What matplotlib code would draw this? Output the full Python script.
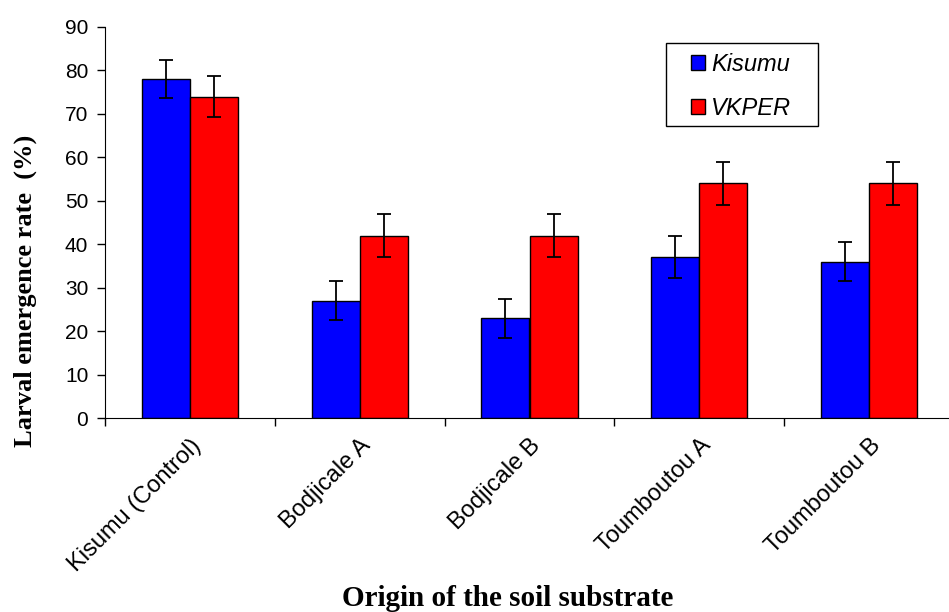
import matplotlib.pyplot as plt
import matplotlib.patches as mpatches
import numpy as np

# data
sites = ["Kisumu (Control)", "Bodjicale A", "Bodjicale B", "Toumboutou A", "Toumboutou B"]
kisumu = [78, 27, 23, 37, 36]
kisumu_err = [4.4, 4.5, 4.5, 4.8, 4.5]
vkper = [74, 42, 42, 54, 54]
vkper_err = [4.8, 4.9, 4.9, 5.0, 5.0]

fig = plt.figure(figsize=(9.49, 6.12), dpi=100)
ax = fig.add_axes([105/949, (612-418)/612, (954-105)/949, (418-27)/612])

x = np.arange(len(sites)) + 0.5
w = 0.283

ax.bar(x - w/2, kisumu, w, color="#0000ff", edgecolor="black", linewidth=1, label="Kisumu")
ax.bar(x + w/2, vkper, w, color="#ff0000", edgecolor="black", linewidth=1, label="VKPER")
ax.errorbar(x - w/2, kisumu, yerr=kisumu_err, fmt="none", ecolor="black", elinewidth=1.3, capsize=5, capthick=1.3)
ax.errorbar(x + w/2, vkper, yerr=vkper_err, fmt="none", ecolor="black", elinewidth=1.3, capsize=5, capthick=1.3)

ax.set_xlim(0, len(sites))
ax.set_ylim(0, 90)
ax.set_yticks(range(0, 91, 10))
ax.set_xticks(range(len(sites) + 1))
ax.set_xticklabels([])
ax.set_xticks(x, minor=True)
ax.set_xticklabels(sites, minor=True, rotation=45, ha="right", rotation_mode="anchor",
                   fontsize=17, family="Liberation Sans")
ax.tick_params(axis="x", which="minor", length=0, pad=12)
ax.tick_params(axis="x", which="major", length=6, width=1)
ax.tick_params(axis="y", length=6, width=1, labelsize=15, pad=6)
for lbl in ax.get_yticklabels():
    lbl.set_family("Liberation Sans")

for s in ["top", "right"]:
    ax.spines[s].set_visible(False)

ax.set_ylabel("Larval emergence rate  (%)", fontsize=19, fontweight="bold",
              family="Liberation Serif")
ax.yaxis.set_label_coords((37 - 105) / 849, (418 - 291) / 391)
fig.text(0.535, 0.0, "Origin of the soil substrate", fontsize=21, fontweight="bold",
         family="Liberation Serif", ha="center", va="bottom")

# legend without frame, box drawn separately
leg = ax.legend(loc="upper left", frameon=False,
                handlelength=0.6, handleheight=0.6, borderaxespad=0,
                handletextpad=0.25, labelspacing=0.87, borderpad=0,
                prop={"family": "Liberation Sans", "style": "italic", "size": 17})
leg.set_bbox_to_anchor((691/949, (612-53)/612), transform=fig.transFigure)
fig.patches.append(mpatches.Rectangle((666/949, (612-126)/612), 152/949, 83/612,
                                      transform=fig.transFigure, fill=False,
                                      edgecolor="black", linewidth=1))

plt.savefig("out.png", dpi=100)
